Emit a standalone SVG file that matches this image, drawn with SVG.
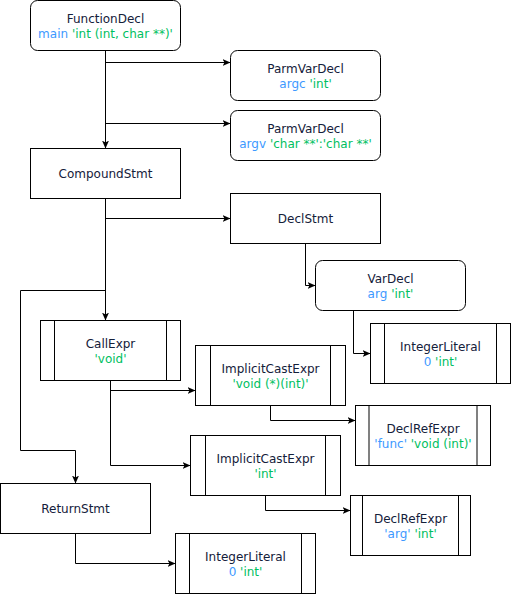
<svg xmlns="http://www.w3.org/2000/svg" width="512" height="598" viewBox="0 0 512 598">
<style>
.box{fill:#fff;stroke:#000;stroke-width:1}
.in{stroke:#000;stroke-width:1}
.ing{stroke:#808080;stroke-width:2}
text{font-family:"DejaVu Sans",Verdana,sans-serif;font-size:12px;text-anchor:middle;fill:#14203a}
.b{fill:#3d99ff}
.g{fill:#00c05f}
.e{fill:none;stroke:#000;stroke-width:1}
</style>
<defs>
<marker id="arr" markerUnits="userSpaceOnUse" markerWidth="10" markerHeight="10" refX="8" refY="3.5" orient="auto">
<path d="M0,0 L8,3.5 L0,7 L2,3.5 Z" fill="#000"/>
</marker>
</defs>
<g id="connectors">
<path class="e" d="M105.5,50.5 V148.5" marker-end="url(#arr)"/>
<path class="e" d="M105.5,50.5 V62.5 H230.5" marker-end="url(#arr)"/>
<path class="e" d="M105.5,50.5 V123.5 H230.5" marker-end="url(#arr)"/>
<path class="e" d="M105.5,198.5 V218.5 H230.5" marker-end="url(#arr)"/>
<path class="e" d="M105.5,198.5 V320.5" marker-end="url(#arr)"/>
<path class="e" d="M105.5,198.5 V290.5 H20.5 V450.5 H75.5 V483.5" marker-end="url(#arr)"/>
<path class="e" d="M305.5,243.5 V285.5 H315.5" marker-end="url(#arr)"/>
<path class="e" d="M353.5,310.5 V353.5 H370.5" marker-end="url(#arr)"/>
<path class="e" d="M110.5,380.5 V390.5 H195.5" marker-end="url(#arr)"/>
<path class="e" d="M110.5,380.5 V465.5 H190.5" marker-end="url(#arr)"/>
<path class="e" d="M270.5,405.5 V420.5 H355.5" marker-end="url(#arr)"/>
<path class="e" d="M265.5,495.5 V510.5 H350.5" marker-end="url(#arr)"/>
<path class="e" d="M75.5,533.5 V563.5 H175.5" marker-end="url(#arr)"/>
</g>
<g id="FunctionDecl">
<rect class="box" x="30.5" y="0.5" width="150" height="50" rx="7"/>
<text x="105.5" y="23">FunctionDecl</text>
<text x="105.5" y="38"><tspan class="b">main</tspan> <tspan class="g">'int (int, char **)'</tspan></text>
</g>
<g id="ParmVarDecl1">
<rect class="box" x="230.5" y="50.5" width="150" height="50" rx="7"/>
<text x="305.5" y="73">ParmVarDecl</text>
<text x="305.5" y="88"><tspan class="b">argc</tspan> <tspan class="g">'int'</tspan></text>
</g>
<g id="ParmVarDecl2">
<rect class="box" x="230.5" y="110.5" width="150" height="50" rx="7"/>
<text x="305.5" y="133">ParmVarDecl</text>
<text x="305.5" y="148"><tspan class="b">argv</tspan> <tspan class="g">'char **':'char **'</tspan></text>
</g>
<g id="CompoundStmt">
<rect class="box" x="30.5" y="148.5" width="150" height="50"/>
<text x="105.5" y="178">CompoundStmt</text>
</g>
<g id="DeclStmt">
<rect class="box" x="230.5" y="193.5" width="150" height="50"/>
<text x="305.5" y="223">DeclStmt</text>
</g>
<g id="VarDecl">
<rect class="box" x="315.5" y="260.5" width="150" height="50" rx="7"/>
<text x="390.5" y="283">VarDecl</text>
<text x="390.5" y="298"><tspan class="b">arg</tspan> <tspan class="g">'int'</tspan></text>
</g>
<g id="CallExpr">
<rect class="box" x="40.5" y="320.5" width="140" height="60"/>
<line class="in" x1="54.5" y1="320.5" x2="54.5" y2="380.5"/>
<line class="in" x1="166.5" y1="320.5" x2="166.5" y2="380.5"/>
<text x="110.5" y="348">CallExpr</text>
<text x="110.5" y="363" class="g">'void'</text>
</g>
<g id="IntegerLiteral1">
<rect class="box" x="370.5" y="323.5" width="140" height="60"/>
<line class="in" x1="384.5" y1="323.5" x2="384.5" y2="383.5"/>
<line class="in" x1="496.5" y1="323.5" x2="496.5" y2="383.5"/>
<text x="440.5" y="351">IntegerLiteral</text>
<text x="440.5" y="366"><tspan class="b">0</tspan> <tspan class="g">'int'</tspan></text>
</g>
<g id="ImplicitCastExpr1">
<rect class="box" x="195.5" y="345.5" width="150" height="60"/>
<line class="in" x1="210.5" y1="345.5" x2="210.5" y2="405.5"/>
<line class="in" x1="330.5" y1="345.5" x2="330.5" y2="405.5"/>
<text x="270.5" y="373">ImplicitCastExpr</text>
<text x="270.5" y="388" class="g">'void (*)(int)'</text>
</g>
<g id="DeclRefExpr1">
<rect class="box" x="355.5" y="405.5" width="135" height="60"/>
<line class="ing" x1="369" y1="406" x2="369" y2="465"/>
<line class="ing" x1="477" y1="406" x2="477" y2="465"/>
<text x="423" y="433">DeclRefExpr</text>
<text x="423" y="448"><tspan class="b">'func'</tspan> <tspan class="g">'void (int)'</tspan></text>
</g>
<g id="ImplicitCastExpr2">
<rect class="box" x="190.5" y="435.5" width="150" height="60"/>
<line class="in" x1="205.5" y1="435.5" x2="205.5" y2="495.5"/>
<line class="in" x1="325.5" y1="435.5" x2="325.5" y2="495.5"/>
<text x="265.5" y="463">ImplicitCastExpr</text>
<text x="265.5" y="478" class="g">'int'</text>
</g>
<g id="DeclRefExpr2">
<rect class="box" x="350.5" y="495.5" width="120" height="60"/>
<line class="in" x1="362.5" y1="495.5" x2="362.5" y2="555.5"/>
<line class="in" x1="458.5" y1="495.5" x2="458.5" y2="555.5"/>
<text x="410.5" y="523">DeclRefExpr</text>
<text x="410.5" y="538"><tspan class="b">'arg'</tspan> <tspan class="g">'int'</tspan></text>
</g>
<g id="ReturnStmt">
<rect class="box" x="0.5" y="483.5" width="150" height="50"/>
<text x="75.5" y="513">ReturnStmt</text>
</g>
<g id="IntegerLiteral2">
<rect class="box" x="175.5" y="533.5" width="140" height="60"/>
<line class="in" x1="189.5" y1="533.5" x2="189.5" y2="593.5"/>
<line class="in" x1="301.5" y1="533.5" x2="301.5" y2="593.5"/>
<text x="245.5" y="561">IntegerLiteral</text>
<text x="245.5" y="576"><tspan class="b">0</tspan> <tspan class="g">'int'</tspan></text>
</g>
</svg>
